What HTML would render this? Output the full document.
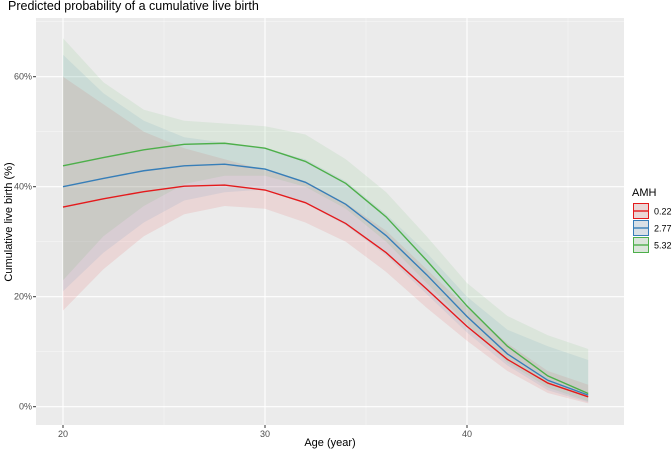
<!DOCTYPE html>
<html><head><meta charset="utf-8"><style>
body{margin:0;background:#fff;font-family:"Liberation Sans",sans-serif}
</style></head><body>
<svg id="chart" width="672" height="449" xmlns="http://www.w3.org/2000/svg">
<text x="8" y="10" font-size="12.5" fill="#000">Predicted probability of a cumulative live birth</text>
<rect x="36" y="18" width="588" height="407" fill="#EBEBEB"/>
<g id="grid"></g>
<g id="ribbons"></g>
<g id="lines"></g>
<g id="axes"></g>
<text x="330" y="446" font-size="11" text-anchor="middle" fill="#000">Age (year)</text>
<text transform="translate(12,222) rotate(-90)" font-size="11" text-anchor="middle" fill="#000">Cumulative live birth (%)</text>
<g>
<text x="632" y="196" font-size="11">AMH</text>
<g id="legend"></g>
</g>
</svg>
<script>
const ages=[20,22,24,26,28,30,32,34,36,38,40,42,44,46];
const groups=["0.22","2.77","5.32"];
const colors=["#E41A1C","#377EB8","#4DAF4A"];
const redFit=[36.3,37.8,39.1,40.1,40.3,39.4,37.1,33.3,28.0,21.4,14.6,8.6,4.3,1.8];
const blueFit=[40.0,41.5,42.9,43.8,44.1,43.2,40.8,36.8,31.1,24.0,16.4,9.6,4.8,2.1];
const greenFit=[43.8,45.3,46.7,47.7,47.9,47.0,44.6,40.6,34.5,26.6,18.3,11.0,5.6,2.4];
const redLo=[17.5,25,31,35,36.5,36,33.5,30,24.5,18,12,6.5,2.5,0.6];
const redHi=[60,55,50,47,45,43,41,37,32,25,18,11.5,6.5,4];
const blueLo=[21,28,33.5,37.5,39,39.5,37,33,27.5,20.5,13.5,7.5,3,0.8];
const blueHi=[64,57,52,49,48,47,45,41,35,28,20,14,11,8.5];
const greenLo=[23,31,36.5,40.5,42,42,40,36,30,22.5,15,8,3.5,1];
const greenHi=[67,59,54,52,51.5,51,49.5,45,39,31,22.5,16.5,13,10.5];
const xTicks=[20,30,40];
const yTicks=[0,20,40,60];
const xMinor=[25,35,45];
const yMinor=[10,30,50,70];

const NS="http://www.w3.org/2000/svg";
const X=a=>63+(a-20)*20.2;
const Y=v=>406.7-v*5.5;
function mk(tag,attrs,parent){const e=document.createElementNS(NS,tag);for(const k in attrs)e.setAttribute(k,attrs[k]);parent.appendChild(e);return e;}
const grid=document.getElementById('grid'),rib=document.getElementById('ribbons'),lin=document.getElementById('lines'),ax=document.getElementById('axes'),leg=document.getElementById('legend');
xMinor.forEach(t=>{const e=mk('line',{x1:X(t),x2:X(t),y1:18,y2:425,stroke:'#F7F7F7','stroke-width':0.6},grid);

});
yMinor.forEach(t=>{const e=mk('line',{x1:36,x2:624,y1:Y(t),y2:Y(t),stroke:'#F7F7F7','stroke-width':0.6},grid);

});
xTicks.forEach(t=>{const e=mk('line',{x1:X(t),x2:X(t),y1:18,y2:425,stroke:'#fff','stroke-width':1.1},grid);


const k=mk('line',{x1:X(t),x2:X(t),y1:425,y2:428,stroke:'#333','stroke-width':1},ax);


const l=mk('text',{x:X(t),y:437,'font-size':9,'text-anchor':'middle',fill:'#4D4D4D'},ax);l.textContent=t;

});
yTicks.forEach(t=>{const e=mk('line',{x1:36,x2:624,y1:Y(t),y2:Y(t),stroke:'#fff','stroke-width':1.1},grid);


const k=mk('line',{x1:33,x2:36,y1:Y(t),y2:Y(t),stroke:'#333','stroke-width':1},ax);


const l=mk('text',{x:32,y:Y(t)+3,'font-size':9,'text-anchor':'end',fill:'#4D4D4D'},ax);l.textContent=t+'%';

});
const fits=[redFit,blueFit,greenFit],los=[redLo,blueLo,greenLo],his=[redHi,blueHi,greenHi];
for(let g=0;g<3;g++){
 let d='M'+ages.map((a,i)=>X(a)+','+Y(his[g][i])).join('L');
 d+='L'+ages.slice().reverse().map((a,j)=>{const i=ages.length-1-j;return X(a)+','+Y(los[g][i]);}).join('L')+'Z';
 const r=mk('path',{d:d,fill:colors[g],'fill-opacity':0.1},rib);
 
 
}
for(let g=0;g<3;g++){
 const p=mk('polyline',{points:ages.map((a,i)=>X(a)+','+Y(fits[g][i])).join(' '),fill:'none',stroke:colors[g],'stroke-width':1.4},lin);
 
 
 const y0=203+g*17;
 const k=mk('rect',{x:633,y:y0,width:16,height:16,fill:'#EBEBEB'},leg);
 
 
 mk('rect',{x:633.5,y:y0+0.5,width:15,height:15,fill:colors[g],'fill-opacity':0.1,stroke:colors[g],'stroke-width':1},leg);
 mk('line',{x1:634,x2:648,y1:y0+8,y2:y0+8,stroke:colors[g],'stroke-width':1.4},leg);
 const t=mk('text',{x:654,y:y0+11.5,'font-size':9,fill:'#000'},leg);t.textContent=groups[g];
 
 
}
</script>
</body></html>
